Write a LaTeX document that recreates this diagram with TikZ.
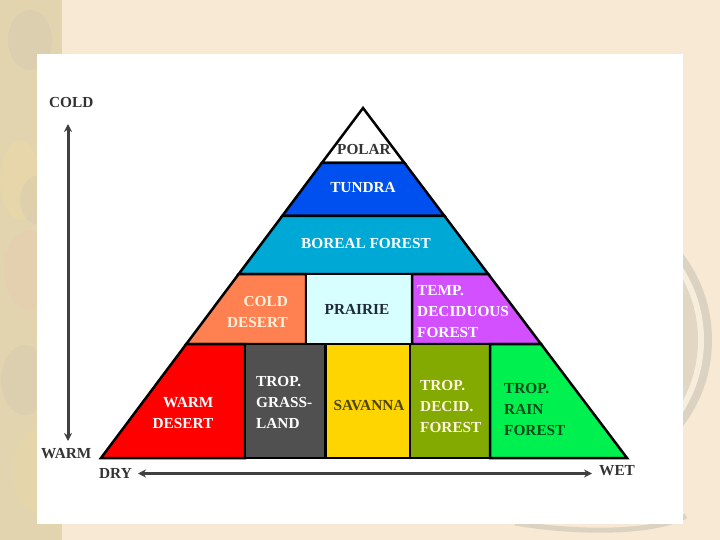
\documentclass[tikz,border=0pt]{standalone}
\usepackage{fontspec}
\setmainfont{Liberation Serif}
\usetikzlibrary{arrows.meta}
\definecolor{bgbeige}{HTML}{F7E9D3}
\definecolor{stripcol}{HTML}{E3D4B0}
\definecolor{stripgray}{HTML}{CFC6B0}
\definecolor{strippink}{HTML}{E6C9AE}
\definecolor{stripyel}{HTML}{EBD9A0}
\definecolor{rimgray}{HTML}{DCD2C2}
\definecolor{rimcream}{HTML}{F6EDDD}
\definecolor{rimtan}{HTML}{E2D7C2}
\definecolor{tundracol}{HTML}{0050F0}
\definecolor{borealcol}{HTML}{00A8D6}
\definecolor{colddescol}{HTML}{FF8050}
\definecolor{prairiecol}{HTML}{D8FFFF}
\definecolor{tempcol}{HTML}{D250FF}
\definecolor{warmdescol}{HTML}{FF0000}
\definecolor{grasscol}{HTML}{505050}
\definecolor{savcol}{HTML}{FFD500}
\definecolor{tdecidcol}{HTML}{82AA00}
\definecolor{raincol}{HTML}{00F050}
\definecolor{axiscol}{HTML}{404040}
\definecolor{labgray}{HTML}{333333}
\definecolor{creamtxt}{HTML}{FFF2DC}
\definecolor{oliveTxt}{HTML}{4E4410}
\definecolor{prairietxt}{HTML}{1E2A3A}
\definecolor{raintxt}{HTML}{0B4A1A}
\tikzset{
  cell/.style={draw=black, line width=2.5pt, line join=miter},
  lab/.style={font=\bfseries\fontsize{15.3}{21}\selectfont, inner sep=0pt},
  axislab/.style={lab, text=labgray},
  axisarrow/.style={draw=axiscol, line width=3pt, {Stealth[length=8pt,width=8pt]}-{Stealth[length=8pt,width=8pt]}}
}
\begin{document}
\begin{tikzpicture}[x=1pt,y=-1pt]
\useasboundingbox (0,0) rectangle (720,540);
% background
\fill[bgbeige] (0,0) rectangle (720,540);
\fill[stripcol] (0,0) rectangle (62,540);
\fill[stripgray, opacity=0.35] (30,40) ellipse (22 and 30);
\fill[stripyel, opacity=0.4] (20,180) ellipse (20 and 40);
\fill[stripgray, opacity=0.35] (40,200) ellipse (20 and 25);
\fill[strippink, opacity=0.4] (30,270) ellipse (26 and 40);
\fill[stripgray, opacity=0.3] (25,380) ellipse (24 and 35);
\fill[stripyel, opacity=0.35] (35,470) ellipse (22 and 40);
% plate behind card
\fill[rimgray] (570,340) circle (142);
\fill[rimcream] (570,340) circle (134);
\fill[rimtan] (570,340) circle (128);
\draw[line width=5pt, rimgray] (515,523) .. controls (580,534) and (655,533) .. (686,516);
% card
\fill[white] (37,54) rectangle (683,524);
% pyramid cells
\filldraw[cell, fill=white] (363,108) -- (404.5,163) -- (321.8,163) -- cycle;
\filldraw[cell, fill=tundracol] (321.8,163) -- (404.5,163) -- (444.5,216) -- (282.2,216) -- cycle;
\filldraw[cell, fill=borealcol] (282.2,216) -- (444.5,216) -- (488.2,274) -- (238.7,274) -- cycle;
\filldraw[cell, fill=colddescol] (238.7,274) -- (306,274) -- (306,344) -- (186.3,344) -- cycle;
\filldraw[cell, fill=prairiecol] (306,274) -- (412,274) -- (412,344) -- (306,344) -- cycle;
\filldraw[cell, fill=tempcol] (412,274) -- (488.2,274) -- (541,344) -- (412,344) -- cycle;
\filldraw[cell, fill=warmdescol] (186.3,344) -- (245,344) -- (245,458) -- (101,458) -- cycle;
\filldraw[cell, fill=grasscol] (245,344) -- (325.5,344) -- (325.5,458) -- (245,458) -- cycle;
\filldraw[cell, fill=savcol] (325.5,344) -- (410,344) -- (410,458) -- (325.5,458) -- cycle;
\filldraw[cell, fill=tdecidcol] (410,344) -- (490,344) -- (490,458) -- (410,458) -- cycle;
\filldraw[cell, fill=raincol] (490,344) -- (541,344) -- (627,458) -- (490,458) -- cycle;
% cell labels
\node[lab, text=labgray] (polar) at (364,150) {POLAR};
\node[lab, text=white] (tundra) at (363,188) {TUNDRA};
\node[lab, text=white] (boreal) at (366,244) {BOREAL FOREST};
\node[lab, text=creamtxt, align=right, anchor=east] (colddes) at (288,312.5) {COLD\\DESERT};
\node[lab, text=prairietxt] (prairie) at (357,309) {PRAIRIE};
\node[lab, text=white, align=left, anchor=west] (temp) at (417,311.5) {TEMP.\\DECIDUOUS\\FOREST};
\node[lab, text=white, align=right, anchor=east] (warmdes) at (213.5,413.5) {WARM\\DESERT};
\node[lab, text=white, align=left, anchor=west] (grass) at (256,402) {TROP.\\GRASS-\\LAND};
\node[lab, text=oliveTxt] (savanna) at (369,406) {SAVANNA};
\node[lab, text=creamtxt, align=left, anchor=west] (tdecid) at (420,407) {TROP.\\DECID.\\FOREST};
\node[lab, text=raintxt, align=left, anchor=west] (rain) at (504,409.5) {TROP.\\RAIN\\FOREST};
% axes
\node[axislab, anchor=west] (cold) at (49,103) {COLD};
\node[axislab, anchor=west] (warm) at (41,454) {WARM};
\node[axislab, anchor=west] (dry) at (99,474) {DRY};
\node[axislab, anchor=west] (wet) at (599,471) {WET};
\coordinate (vtop) at (68,124);
\coordinate (vbot) at (68,441);
\coordinate (hleft) at (138,473.5);
\coordinate (hright) at (592,473.5);
\draw[axisarrow] (vtop) -- (vbot);
\draw[axisarrow] (hleft) -- (hright);
\end{tikzpicture}
\end{document}
